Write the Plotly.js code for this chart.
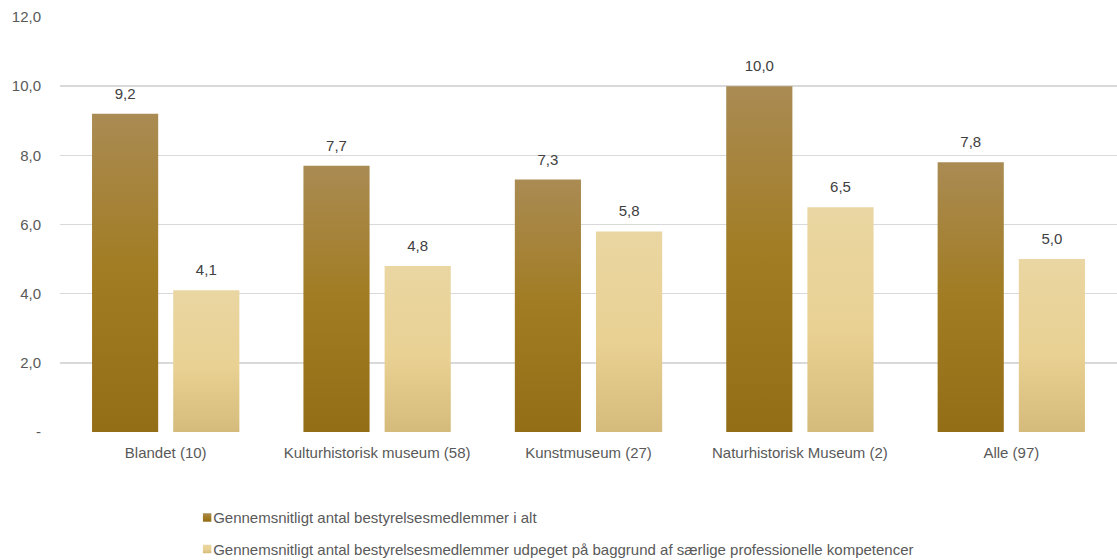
<!DOCTYPE html>
<html>
<head>
<meta charset="utf-8">
<script src="https://cdn.plot.ly/plotly-3.0.1.min.js"></script>
<style>html,body{margin:0;padding:0;background:#fff;}#chart{width:1117px;height:560px;}</style>
</head>
<body>
<div id="chart"></div>
<script>
const categories = ["Blandet (10)", "Kulturhistorisk museum (58)", "Kunstmuseum (27)", "Naturhistorisk Museum (2)", "Alle (97)"];
const seriesNames = ["Gennemsnitligt antal bestyrelsesmedlemmer i alt",
  "Gennemsnitligt antal bestyrelsesmedlemmer udpeget på baggrund af særlige professionelle kompetencer"];
const totalValues = [9.2, 7.7, 7.3, 10.0, 7.8];
const professionalValues = [4.1, 4.8, 5.8, 6.5, 5.0];
const tickValues = [0, 2, 4, 6, 8, 10, 12];
const tickLabels = ["-", "2,0", "4,0", "6,0", "8,0", "10,0", "12,0"];

const fmt = v => v.toFixed(1).replace('.', ',');
const font = {family: "Liberation Sans, Arial, sans-serif", size: 15, color: "#595959"};

const traces = [
  {type: "bar", name: seriesNames[0], x: categories, y: totalValues, legendgroup: "a",
   marker: {color: "#A07D2A"}, text: totalValues.map(fmt), textposition: "outside", constraintext: "none",
   textfont: {family: font.family, size: 15, color: "#404040"}, cliponaxis: false, hoverinfo: "none"},
  {type: "bar", name: seriesNames[1], x: categories, y: professionalValues, legendgroup: "b",
   marker: {color: "#E6CF95"}, text: professionalValues.map(fmt), textposition: "outside", constraintext: "none",
   textfont: {family: font.family, size: 15, color: "#404040"}, cliponaxis: false, hoverinfo: "none"}
];

const layout = {
  width: 1117, height: 560,
  margin: {l: 60, r: 0, t: 17, b: 128, autoexpand: false},
  paper_bgcolor: "#fff", plot_bgcolor: "#fff",
  font: font,
  barmode: "group", bargap: 0.232, bargroupgap: 0.185,
  xaxis: {showgrid: false, zeroline: false, showline: false, ticks: "", tickfont: font, tickangle: 0,
          ticklabelstandoff: 10, automargin: false},
  yaxis: {range: [0, 12], tickvals: tickValues, ticktext: tickLabels, showgrid: true, gridcolor: "#D9D9D9",
          gridwidth: 1.5, zeroline: false, showline: false, ticks: "", tickfont: font, ticklabelstandoff: 18, automargin: false},
  showlegend: true,
  legend: {orientation: "v", xref: "container", yref: "container", x: 0.155, y: 0.105, xanchor: "left", yanchor: "top",
           traceorder: "grouped", tracegroupgap: 9, font: font, itemwidth: 30, bgcolor: "rgba(0,0,0,0)"}
};

function decorate(gd) {
  const svg = gd.querySelector("svg.main-svg");
  const ns = "http://www.w3.org/2000/svg";
  if (!document.getElementById("gDark")) {
    const defs = document.createElementNS(ns, "defs");
    function grad(id, stops) {
      const g = document.createElementNS(ns, "linearGradient");
      g.setAttribute("id", id); g.setAttribute("x1", "0"); g.setAttribute("y1", "0");
      g.setAttribute("x2", "0"); g.setAttribute("y2", "1");
      stops.forEach(function(s) {
        const st = document.createElementNS(ns, "stop");
        st.setAttribute("offset", s[0]); st.setAttribute("stop-color", s[1]);
        g.appendChild(st);
      });
      defs.appendChild(g);
    }
    grad("gDark", [["0", "#AA8B53"], ["0.5", "#A17C22"], ["1", "#936E17"]]);
    grad("gLight", [["0", "#EAD6A2"], ["0.55", "#E9D193"], ["1", "#D5BB7B"]]);
    svg.insertBefore(defs, svg.firstChild);
  }
  const ids = ["gDark", "gLight"];
  gd.querySelectorAll("g.barlayer g.trace").forEach(function(t, i) {
    t.querySelectorAll("path").forEach(function(p) { p.style.setProperty("fill", "url(#" + ids[i] + ")", "important"); });
    t.querySelectorAll("text").forEach(function(tx) {
      tx.setAttribute("transform", "translate(0,-9) " + (tx.getAttribute("transform") || ""));
    });
  });
  gd.querySelectorAll(".legend .traces").forEach(function(t, i) {
    t.querySelectorAll(".legendpoints path").forEach(function(p) {
      p.style.setProperty("fill", "url(#" + ids[i] + ")", "important");
      p.setAttribute("transform", "translate(34,0) scale(0.7)");
    });
  });
}

Plotly.newPlot("chart", traces, layout, {staticPlot: true}).then(decorate);
</script>
</body>
</html>
